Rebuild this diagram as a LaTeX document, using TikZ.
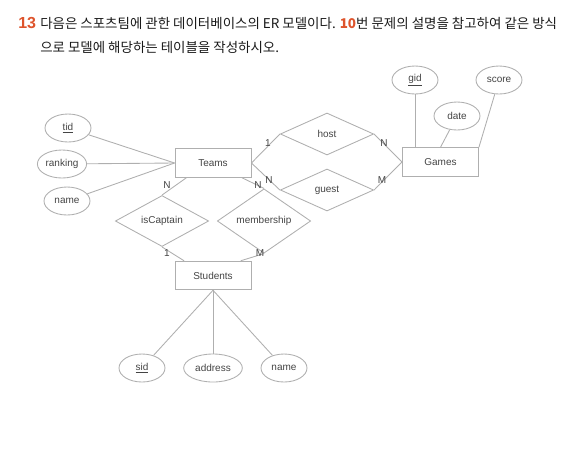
\documentclass[tikz,border=0pt]{standalone}
\usepackage{fontspec}
\setmainfont{Liberation Sans}
\newfontfamily\kofont{Noto Sans CJK KR}
\usetikzlibrary{shapes.geometric}
\definecolor{numred}{RGB}{222,84,44}
\definecolor{linegray}{RGB}{175,175,175}
\definecolor{textgray}{RGB}{68,68,68}
\newcommand{\pkey}[1]{\underline{#1}}

\begin{document}
\begin{tikzpicture}[x=0.75pt,y=0.75pt,yscale=-1,xscale=1,
  entity/.style={draw=linegray,line width=0.65pt,rectangle,minimum width=57pt,minimum height=21.5pt,inner sep=0.75pt,font=\fontsize{7.5}{9}\selectfont,text=textgray},
  relation/.style={draw=linegray,line width=0.65pt,diamond,minimum width=70pt,minimum height=31.5pt,inner sep=0pt,font=\fontsize{7.5}{9}\selectfont,text=textgray},
  attrib/.style={draw=linegray,line width=0.65pt,ellipse,minimum width=34.5pt,minimum height=21pt,inner sep=0.75pt,font=\fontsize{7.5}{9}\selectfont,text=textgray},
  link/.style={draw=linegray,line width=0.65pt},
  card/.style={inner sep=0.75pt,font=\fontsize{7.5}{9}\selectfont,text=textgray}]
\useasboundingbox (0,0) rectangle (588,465);

% Text Node
\node (qnum) at (18,23) [anchor=west,inner sep=0pt,font=\bfseries\fontsize{12}{14}\selectfont,text=numred] {13};
% Text Node
\node (title1) at (40,23) [anchor=west,inner sep=0pt,font=\kofont\fontsize{10.1}{12}\selectfont,text=black!90] {다음은 스포츠팀에 관한 데이터베이스의 ER 모델이다. {\bfseries\color{numred}10}번 문제의 설명을 참고하여 같은 방식};
% Text Node
\node (title2) at (40,47) [anchor=west,inner sep=0pt,font=\kofont\fontsize{10.1}{12}\selectfont,text=black!90] {으로 모델에 해당하는 테이블을 작성하시오.};

%Shape: Rectangle
\node [entity] (teams) at (213,163) {Teams};
\node [entity] (games) at (440.5,162) {Games};
\node [entity] (students) at (213,275.5) {Students};

%Shape: Diamond
\node [relation] (host) at (327,134) {host};
\node [relation] (guest) at (327,190) {guest};
\node [relation] (iscaptain) at (162,221) {isCaptain};
\node [relation] (membership) at (264,221) {membership};

%Shape: Ellipse
\node [attrib] (tid) at (68,128) {\pkey{tid}};
\node [attrib] (ranking) at (62,164) {ranking};
\node [attrib] (tname) at (67,201) {name};
\node [attrib] (gid) at (415,80) {\pkey{gid}};
\node [attrib] (date) at (457,116) {date};
\node [attrib] (score) at (499,80) {score};
\node [attrib] (sid) at (142,368) {\pkey{sid}};
\node [attrib,minimum width=44pt] (address) at (213,368) {address};
\node [attrib] (sname) at (284,368) {name};

%Straight Lines
\draw [link] (tid) -- (teams.west);
\draw [link] (ranking) -- (teams.west);
\draw [link] (tname) -- (teams.west);
\draw [link] (teams.east) -- (host.west);
\draw [link] (teams.east) -- (guest.west);
\draw [link] (host.east) -- (games.west);
\draw [link] (guest.east) -- (games.west);
\draw [link] (teams.209) -- (iscaptain.north);
\draw [link] (teams.-27) -- (membership.north);
\draw [link] (iscaptain.south) -- (students.153);
\draw [link] (membership.south) -- (students.28);
\draw [link] (gid) -- (gid |- games.north);
\draw [link] (date) -- (games.north);
\draw [link] (score) -- (games.north east);
\draw [link] (students.south) -- (sid);
\draw [link] (students.south) -- (address);
\draw [link] (students.south) -- (sname);

% Text Node
\node [card] (c1) at (268,143) {1};
\node [card] (c2) at (384,143) {N};
\node [card] (c3) at (269,180) {N};
\node [card] (c4) at (258,185) {N};
\node [card] (c5) at (382,180) {M};
\node [card] (c6) at (167,185) {N};
\node [card] (c7) at (167,253) {1};
\node [card] (c8) at (260,253) {M};

\end{tikzpicture}
\end{document}
